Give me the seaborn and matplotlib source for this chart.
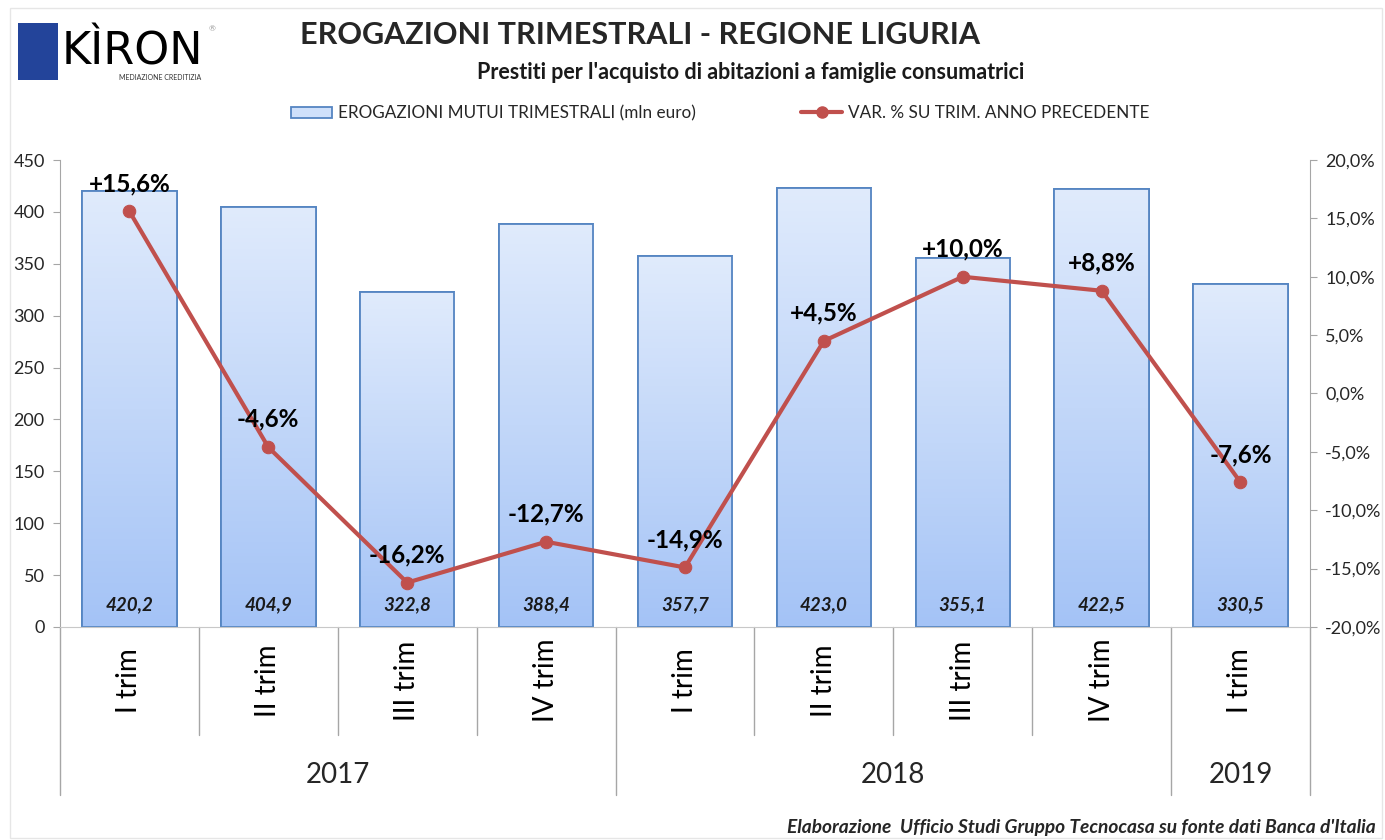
import numpy as np
import pandas as pd
import seaborn as sns
import matplotlib.pyplot as plt
from matplotlib.patches import Rectangle
from matplotlib.lines import Line2D
from matplotlib.colors import LinearSegmentedColormap
import matplotlib.transforms as mtransforms

# data
trimestri = ['I trim', 'II trim', 'III trim', 'IV trim', 'I trim', 'II trim', 'III trim', 'IV trim', 'I trim']
anni = ['2017', '2018', '2019']
trim_per_anno = [4, 4, 1]
erogazioni = [420.2, 404.9, 322.8, 388.4, 357.7, 423.0, 355.1, 422.5, 330.5]
var_pct = [15.6, -4.6, -16.2, -12.7, -14.9, 4.5, 10.0, 8.8, -7.6]

sns.set_style('white')
plt.rcParams['font.family'] = ['Lato', 'DejaVu Sans']

df = pd.DataFrame({'pos': np.arange(len(erogazioni)), 'erog': erogazioni, 'var': var_pct})

fig = plt.figure(figsize=(13.85, 8.4), dpi=100)
ax = fig.add_axes([0.0433, 0.2536, 0.9025, 0.5559])

bar_edge = '#5585c2'
line_col = '#c0504d'
grid_col = '#a6a6a6'

sns.barplot(data=df, x='pos', y='erog', ax=ax, color='#c5d9f9', edgecolor=bar_edge,
            linewidth=1.3, width=0.68, saturation=1, native_scale=True)

# vertical gradient inside bars
grad = np.linspace(0, 1, 256).reshape(-1, 1)
cmap = LinearSegmentedColormap.from_list('g', ['#a4c3f6', '#e0ebfc'])
for p in list(ax.patches):
    x0, y0 = p.get_x(), p.get_y()
    w, h = p.get_width(), p.get_height()
    im = ax.imshow(grad, extent=[x0, x0 + w, y0, y0 + h], origin='lower', cmap=cmap,
                   aspect='auto', zorder=p.get_zorder() + 0.1)
    im.set_clip_path(p)
    ax.add_patch(Rectangle((x0, y0), w, h, fill=False, edgecolor=bar_edge, lw=1.3,
                           zorder=p.get_zorder() + 0.2))

for i, v in enumerate(erogazioni):
    ax.text(i, 21, f'{v:.1f}'.replace('.', ','), ha='center', va='center',
            fontsize=13.5, fontweight='bold', style='italic', color='#1a1a1a', zorder=5)

ax.set_xlim(-0.5, len(erogazioni) - 0.5)
ax.set_ylim(0, 450)
ax.set_yticks(range(0, 451, 50))
ax.set_xticks([])
ax.set_xlabel('')
ax.set_ylabel('')
for s in ['top', 'right']:
    ax.spines[s].set_visible(False)
ax.spines['left'].set_color(grid_col)
ax.spines['bottom'].set_color('#c8c8c8')
ax.tick_params(axis='y', direction='out', length=5, color=grid_col, labelsize=13,
               labelcolor='#262626', pad=6, left=True)

ax2 = ax.twinx()
sns.lineplot(data=df, x='pos', y='var', ax=ax2, color=line_col, linewidth=3,
             marker='o', markersize=9, markeredgecolor=line_col)
ax2.set_ylim(-20, 20)
ax2.set_yticks(np.arange(-20, 21, 5))
ax2.set_yticklabels([f'{t:.1f}%'.replace('.', ',') for t in np.arange(-20, 21, 5)])
ax2.set_ylabel('')
ax2.set_xlabel('')
for s in ['top', 'left', 'bottom']:
    ax2.spines[s].set_visible(False)
ax2.spines['right'].set_color(grid_col)
ax2.tick_params(axis='y', direction='out', length=5, color=grid_col, labelsize=13,
                labelcolor='#262626', pad=6, right=True)
ax2.set_xlim(-0.5, len(erogazioni) - 0.5)

for i, v in enumerate(var_pct):
    lab = (f'+{v:.1f}%' if v > 0 else f'{v:.1f}%').replace('.', ',')
    ax2.annotate(lab, (i, v), xytext=(0, 20), textcoords='offset points',
                 ha='center', va='center', fontsize=17.5, fontweight='bold', color='black')

# multi-level category axis
trans = mtransforms.blended_transform_factory(ax.transData, ax.transAxes)
for i, t in enumerate(trimestri):
    ax.text(i, -0.115, t, transform=trans, rotation=90, ha='center', va='center',
            fontsize=20, color='black')
bounds = np.cumsum([0] + trim_per_anno)
for b in range(len(erogazioni) + 1):
    depth = -0.36 if b in bounds else -0.232
    ax.plot([b - 0.5, b - 0.5], [0, depth], transform=trans, color=grid_col,
            lw=1, clip_on=False)
for j, a in enumerate(anni):
    mid = (bounds[j] + bounds[j + 1] - 1) / 2
    ax.text(mid, -0.318, a, transform=trans, ha='center', va='center', fontsize=20)

# titles
fig.text(0.462, 0.958, 'EROGAZIONI TRIMESTRALI - REGIONE LIGURIA', ha='center',
         va='center', fontsize=22, fontweight='bold')
fig.text(0.542, 0.914, "Prestiti per l'acquisto di abitazioni a famiglie consumatrici",
         ha='center', va='center', fontsize=15.5, fontweight='bold', color='#1a1a1a')

handles = [Rectangle((0, 0), 1, 1, facecolor='#cfe0fa', edgecolor=bar_edge, lw=1.3),
           Line2D([0], [0], color=line_col, lw=3, marker='o', markersize=8)]
fig.legend(handles, ['EROGAZIONI MUTUI TRIMESTRALI (mln euro)',
                     'VAR. % SU TRIM. ANNO PRECEDENTE'],
           loc='center', bbox_to_anchor=(0.52, 0.865), ncol=2, frameon=False,
           fontsize=12.3, columnspacing=6.2, handlelength=2.4, handletextpad=0.3)

fig.text(0.993, 0.015, "Elaborazione  Ufficio Studi Gruppo Tecnocasa su fonte dati Banca d'Italia",
         ha='right', va='center', fontsize=13.8, fontweight='bold', style='italic')

# logo
fig.patches.append(Rectangle((18 / 1385, 1 - 80 / 840), 40 / 1385, 57 / 840,
                             transform=fig.transFigure, facecolor='#23449a',
                             edgecolor='none'))
fig.text(62 / 1385, 1 - 52 / 840, 'KÌRON', ha='left', va='center', fontsize=32,
         color='black', family='Liberation Sans Narrow')
fig.text(160 / 1385, 1 - 77 / 840, 'MEDIAZIONE CREDITIZIA', ha='center', va='center',
         fontsize=5, color='#333333')
fig.text(212 / 1385, 1 - 29 / 840, '®', ha='center', va='center', fontsize=6,
         color='#999999')

# light outer frame
fig.patches.append(Rectangle((10 / 1385, 2 / 840), 1372 / 1385, 830 / 840,
                             transform=fig.transFigure, fill=False,
                             edgecolor='#e6e6e6', lw=1))

fig.savefig('out.png', dpi=100)
